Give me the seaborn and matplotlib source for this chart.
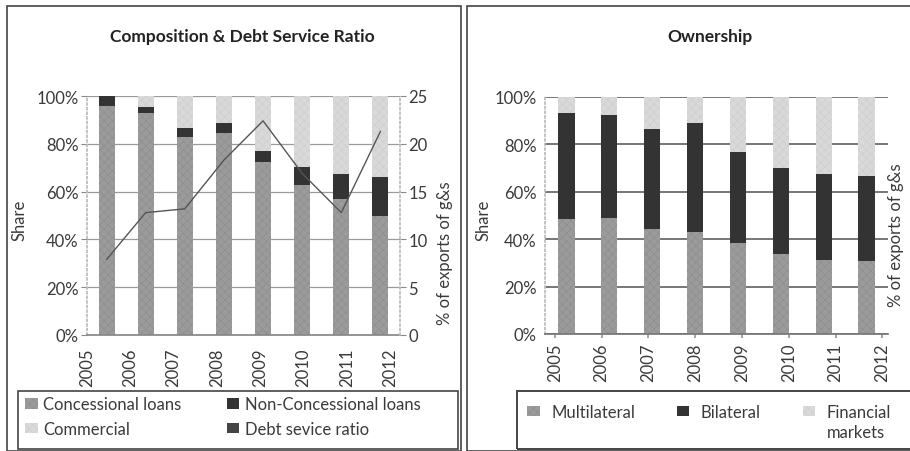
import numpy as np
import pandas as pd
import matplotlib
matplotlib.use("Agg")
import matplotlib.pyplot as plt
import seaborn as sns
from matplotlib.patches import Rectangle, Patch

# ---- data -------------------------------------------------------------
years = ["2005", "2006", "2007", "2008", "2009", "2010", "2011", "2012"]

# composition of external debt (share, %)
concessional = [96.0, 92.8, 83.0, 84.7, 72.4, 62.6, 57.0, 49.7]
non_concessional = [4.0, 2.7, 3.5, 4.2, 4.6, 7.7, 10.5, 16.4]
commercial = [0.0, 4.5, 13.5, 11.1, 23.0, 29.7, 32.5, 33.9]

# debt service ratio (% of exports of goods & services)
debt_service = [7.9, 12.8, 13.2, 18.3, 22.4, 16.9, 12.8, 21.3]

# ownership of external debt (share, %)
multilateral = [48.6, 48.9, 44.4, 43.2, 38.4, 33.8, 31.4, 31.0]
bilateral = [44.6, 43.6, 42.2, 45.8, 38.6, 36.3, 36.2, 35.6]
financial = [6.8, 7.5, 13.4, 11.0, 23.0, 29.9, 32.4, 33.4]

share_ticks = [0, 20, 40, 60, 80, 100]
share_labels = ["0%", "20%", "40%", "60%", "80%", "100%"]
ratio_ticks = [0, 5, 10, 15, 20, 25]

# ---- style ------------------------------------------------------------
sns.set_theme(style="white")
plt.rcParams["font.family"] = ["Lato", "DejaVu Sans"]
plt.rcParams["hatch.linewidth"] = 0.35

MID = "#9b9b9b"
DARK = "#333333"
LIGHT = "#d9d9d9"
TXT = "#3a3a3a"
FRAME = "#444444"

W, H = 910, 452
fig = plt.figure(figsize=(W / 100, H / 100), dpi=100)
fig.patch.set_facecolor("white")


def fx(px):
    return px / W


def fy(py):
    return 1 - py / H


def box(x0, y0, x1, y1, lw=1.2):
    """Outline rectangle given in pixel coordinates (top-left origin)."""
    fig.add_artist(Rectangle((fx(x0), fy(y1)), fx(x1 - x0), (y1 - y0) / H,
                             transform=fig.transFigure, fill=False,
                             lw=lw, ec=FRAME, zorder=10))


def stacked(ax, layers, width):
    """Draw stacked bars by layering cumulative totals (largest first)."""
    df = pd.DataFrame({"year": years})
    running = np.zeros(len(years))
    cums = []
    for vals, col, hatch, hcol in layers:
        running = running + np.asarray(vals)
        cums.append((running.copy(), col, hatch, hcol))
    for cum, col, hatch, hcol in reversed(cums):
        df["v"] = cum
        sns.barplot(data=df, x="year", y="v", order=years, color=col,
                    saturation=1, width=width, errorbar=None, ax=ax,
                    hatch=hatch, edgecolor=hcol, linewidth=0, zorder=2)


# ---- left panel: composition & debt service ratio ----------------------
ax1 = fig.add_axes([fx(87), fy(336), fx(313), 239 / H])
stacked(ax1, [(concessional, MID, "xxxx", "#8a8a8a"),
              (non_concessional, DARK, None, DARK),
              (commercial, LIGHT, "xxxx", "#cbcbcb")], width=0.41)
ax1.set_ylim(0, 100)
ax1.set_xlim(-0.5, 7.5)
ax1.set_yticks(share_ticks, share_labels)
ax1.set_xticks(np.linspace(-0.5, 7.25, len(years)), years, rotation=90)
ax1.set_xlabel("")
ax1.set_ylabel("Share", fontsize=12, color=TXT)
ax1.yaxis.set_label_coords(-0.19, 0.485)
ax1.grid(axis="y", color="#9a9a9a", lw=0.9)
ax1.set_axisbelow(True)
ax1.tick_params(axis="y", left=True, length=4, width=0.8, color="#888",
                labelsize=12, labelcolor=TXT, pad=2)
ax1.tick_params(axis="x", bottom=False, labelsize=12, labelcolor=TXT, pad=3)
ax1.spines["left"].set_linestyle(":")
ax1.spines["left"].set_color("#bbbbbb")
ax1.spines["top"].set_visible(False)
ax1.spines["right"].set_visible(False)
ax1.spines["bottom"].set_color("#888888")

ax1b = ax1.twinx()
sns.lineplot(x=np.arange(len(years)), y=debt_service, ax=ax1b,
             color="#555555", lw=1.0, zorder=5)
ax1b.set_ylim(0, 25)
ax1b.set_yticks(ratio_ticks, [str(t) for t in ratio_ticks])
ax1b.tick_params(axis="y", right=True, length=4, width=0.8, color="#888",
                 labelsize=12, labelcolor=TXT, pad=2)
ax1b.set_ylabel("% of exports of g&s", fontsize=12, color=TXT)
ax1b.yaxis.set_label_coords(1.118, 0.347)
for s in ("left", "top", "bottom"):
    ax1b.spines[s].set_visible(False)
ax1b.spines["right"].set_linestyle(":")
ax1b.spines["right"].set_color("#bbbbbb")
ax1b.set_xlim(-0.5, 7.5)

fig.text(fx(242), fy(37), "Composition & Debt Service Ratio", ha="center",
         va="center", fontsize=12.5, fontweight="bold", color="#222")

h_left = [Patch(facecolor=MID, hatch="xxxx", edgecolor="#8a8a8a", lw=0),
          Patch(facecolor=LIGHT, hatch="xxxx", edgecolor="#cbcbcb", lw=0),
          Patch(facecolor=DARK, lw=0),
          Patch(facecolor="#444444", lw=0)]
l_left = ["Concessional loans", "Commercial", "Non-Concessional loans",
          "Debt sevice ratio"]
leg1 = fig.legend(h_left, l_left, ncol=2, loc="center left",
                  bbox_to_anchor=(fx(25), fy(417.5)), fontsize=12,
                  frameon=False, handlelength=0.75, handleheight=0.6,
                  handletextpad=0.35, labelspacing=0.5, borderpad=0,
                  borderaxespad=0, columnspacing=2.7)
for t in leg1.get_texts():
    t.set_color(TXT)
box(18, 392, 458, 450)

# ---- right panel: ownership -------------------------------------------
ax2 = fig.add_axes([fx(545), fy(335), fx(343), 237 / H])
stacked(ax2, [(multilateral, MID, "xxxx", "#8a8a8a"),
              (bilateral, DARK, None, DARK),
              (financial, LIGHT, "xxxx", "#cbcbcb")], width=0.38)
ax2.set_ylim(0, 100)
ax2.set_xlim(-0.5, 7.5)
ax2.set_yticks(share_ticks, share_labels)
ax2.set_xticks(np.linspace(-0.27, 7.37, len(years)), years, rotation=90)
ax2.set_xlabel("")
ax2.set_ylabel("Share", fontsize=12, color=TXT)
ax2.yaxis.set_label_coords(-0.155, 0.485)
ax2.grid(axis="y", color="#606060", lw=1.2)
ax2.set_axisbelow(True)
ax2.tick_params(axis="y", left=False, labelsize=12, labelcolor=TXT, pad=0)
ax2.tick_params(axis="x", bottom=True, length=3, color="#999",
                labelsize=12, labelcolor=TXT, pad=3)
ax2.spines["left"].set_linestyle(":")
ax2.spines["left"].set_color("#bbbbbb")
ax2.spines["top"].set_visible(False)
ax2.spines["right"].set_visible(False)
ax2.spines["bottom"].set_color("#777777")
ax2.text(1.022, 0.42, "% of exports of g&s", transform=ax2.transAxes,
         rotation=90, ha="center", va="center", fontsize=12, color=TXT)

fig.text(fx(710), fy(37), "Ownership", ha="center", va="center",
         fontsize=12.5, fontweight="bold", color="#222")

h_right = [Patch(facecolor=MID, hatch="xxxx", edgecolor="#8a8a8a", lw=0),
           Patch(facecolor=DARK, lw=0),
           Patch(facecolor=LIGHT, hatch="xxxx", edgecolor="#cbcbcb", lw=0)]
l_right = ["Multilateral", "Bilateral", "Financial"]
leg2 = fig.legend(h_right, l_right, ncol=3, loc="center left",
                  bbox_to_anchor=(fx(527), fy(413)), fontsize=12,
                  frameon=False, handlelength=0.75, handleheight=0.6,
                  handletextpad=0.7, borderpad=0, borderaxespad=0,
                  columnspacing=2.5)
for t in leg2.get_texts():
    t.set_color(TXT)
box(517, 392, 915, 450, lw=1.4)

# second line of the "Financial markets" entry, under its first line
fig.canvas.draw()
fin_bb = leg2.get_texts()[2].get_window_extent()
fig.text(fin_bb.x0 / W, (fin_bb.y0 - 20) / H, "markets", ha="left",
         va="bottom", fontsize=12, color=TXT)

# ---- panel frames -------------------------------------------------------
box(7, 7, 461, 452)
box(467, 7, 915, 452)

fig.savefig("out.png", dpi=100, facecolor="white")
